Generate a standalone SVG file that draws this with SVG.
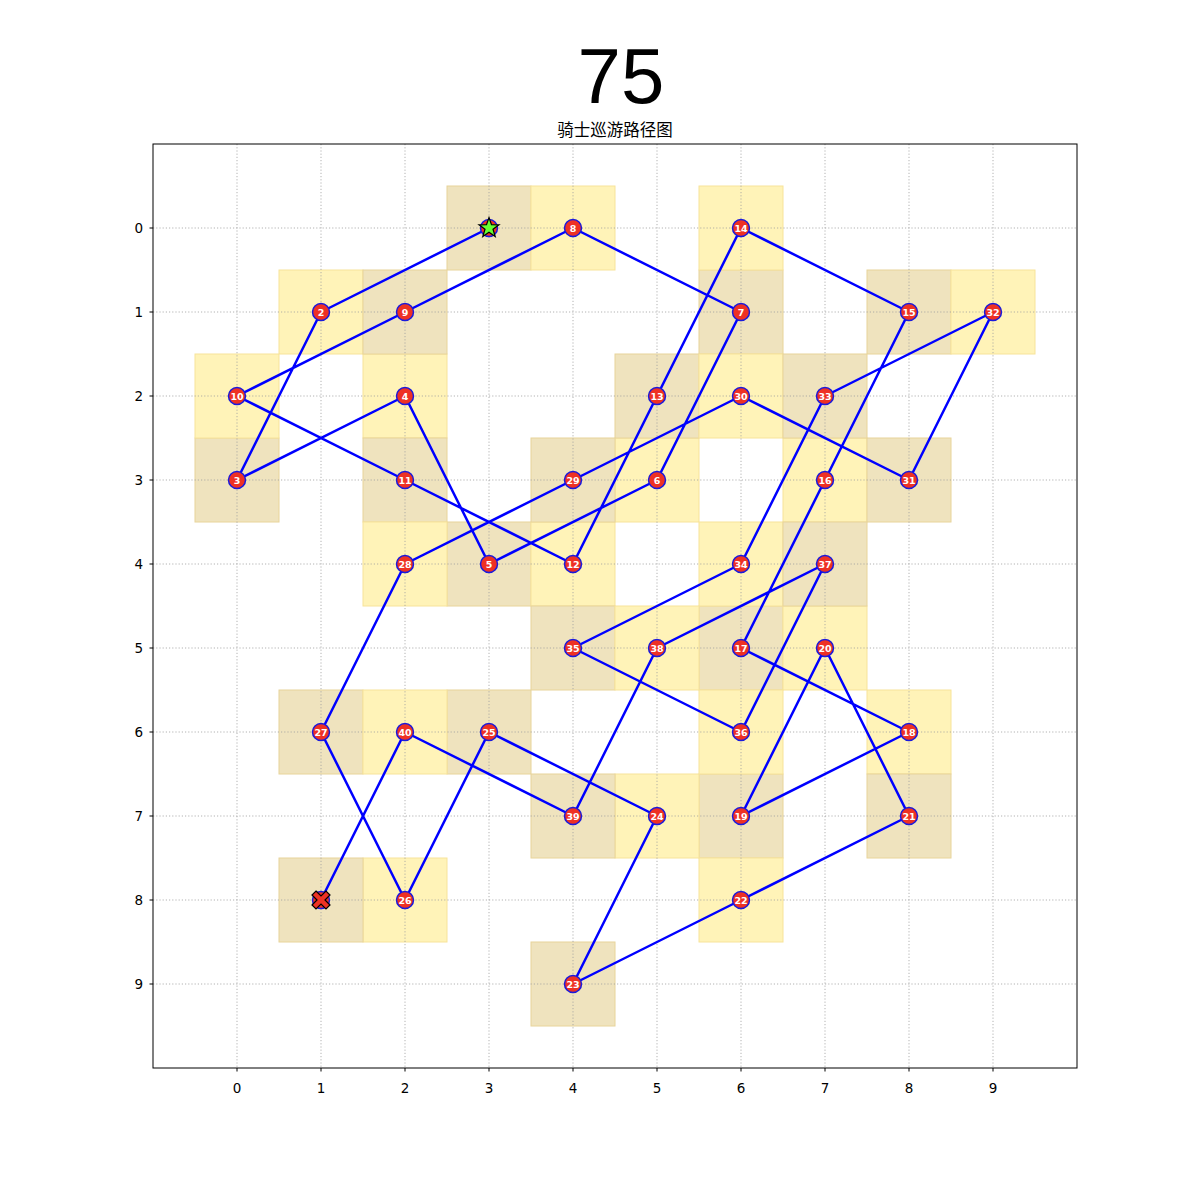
<svg xmlns="http://www.w3.org/2000/svg" width="1200" height="1200" viewBox="0 0 1200 1200">
<style>
.ty{fill:#FFF3B8;stroke:#F7E39A;stroke-width:1}
.tt{fill:#EFE3BE;stroke:#E8D49A;stroke-width:1}
.grid line{stroke:#a0a0a0;stroke-width:0.8;stroke-dasharray:1.2,2}
.edge{stroke:#0000FF;stroke-width:2.5;fill:none;stroke-linecap:round}
.nd circle{fill:#EE3124;stroke:#1a1adc;stroke-width:1.5}
.nd text{fill:#fff;font-family:"DejaVu Sans",sans-serif;font-size:9.5px;font-weight:bold;text-anchor:middle}
.tick{font-family:"DejaVu Sans",sans-serif;font-size:13.5px;fill:#000}
</style>
<rect width="1200" height="1200" fill="#fff"/>
<text x="621" y="103" text-anchor="middle" font-family="Liberation Sans, Arial, sans-serif" font-size="78" fill="#000">75</text>
<text x="615" y="136" text-anchor="middle" font-family="DejaVu Sans, 'Noto Sans CJK SC', sans-serif" font-size="16.5" fill="#000">骑士巡游路径图</text>
<g id="cells">
<rect class="tt" x="447" y="186" width="84" height="84"/>
<rect class="ty" x="279" y="270" width="84" height="84"/>
<rect class="tt" x="195" y="438" width="84" height="84"/>
<rect class="ty" x="363" y="354" width="84" height="84"/>
<rect class="tt" x="447" y="522" width="84" height="84"/>
<rect class="ty" x="615" y="438" width="84" height="84"/>
<rect class="tt" x="699" y="270" width="84" height="84"/>
<rect class="ty" x="531" y="186" width="84" height="84"/>
<rect class="tt" x="363" y="270" width="84" height="84"/>
<rect class="ty" x="195" y="354" width="84" height="84"/>
<rect class="tt" x="363" y="438" width="84" height="84"/>
<rect class="ty" x="531" y="522" width="84" height="84"/>
<rect class="tt" x="615" y="354" width="84" height="84"/>
<rect class="ty" x="699" y="186" width="84" height="84"/>
<rect class="tt" x="867" y="270" width="84" height="84"/>
<rect class="ty" x="783" y="438" width="84" height="84"/>
<rect class="tt" x="699" y="606" width="84" height="84"/>
<rect class="ty" x="867" y="690" width="84" height="84"/>
<rect class="tt" x="699" y="774" width="84" height="84"/>
<rect class="ty" x="783" y="606" width="84" height="84"/>
<rect class="tt" x="867" y="774" width="84" height="84"/>
<rect class="ty" x="699" y="858" width="84" height="84"/>
<rect class="tt" x="531" y="942" width="84" height="84"/>
<rect class="ty" x="615" y="774" width="84" height="84"/>
<rect class="tt" x="447" y="690" width="84" height="84"/>
<rect class="ty" x="363" y="858" width="84" height="84"/>
<rect class="tt" x="279" y="690" width="84" height="84"/>
<rect class="ty" x="363" y="522" width="84" height="84"/>
<rect class="tt" x="531" y="438" width="84" height="84"/>
<rect class="ty" x="699" y="354" width="84" height="84"/>
<rect class="tt" x="867" y="438" width="84" height="84"/>
<rect class="ty" x="951" y="270" width="84" height="84"/>
<rect class="tt" x="783" y="354" width="84" height="84"/>
<rect class="ty" x="699" y="522" width="84" height="84"/>
<rect class="tt" x="531" y="606" width="84" height="84"/>
<rect class="ty" x="699" y="690" width="84" height="84"/>
<rect class="tt" x="783" y="522" width="84" height="84"/>
<rect class="ty" x="615" y="606" width="84" height="84"/>
<rect class="tt" x="531" y="774" width="84" height="84"/>
<rect class="ty" x="363" y="690" width="84" height="84"/>
<rect class="tt" x="279" y="858" width="84" height="84"/>
</g>
<g class="grid">
<line x1="237" y1="144" x2="237" y2="1068"/><line x1="321" y1="144" x2="321" y2="1068"/><line x1="405" y1="144" x2="405" y2="1068"/><line x1="489" y1="144" x2="489" y2="1068"/><line x1="573" y1="144" x2="573" y2="1068"/><line x1="657" y1="144" x2="657" y2="1068"/><line x1="741" y1="144" x2="741" y2="1068"/><line x1="825" y1="144" x2="825" y2="1068"/><line x1="909" y1="144" x2="909" y2="1068"/><line x1="993" y1="144" x2="993" y2="1068"/>
<line x1="153" y1="228" x2="1077" y2="228"/><line x1="153" y1="312" x2="1077" y2="312"/><line x1="153" y1="396" x2="1077" y2="396"/><line x1="153" y1="480" x2="1077" y2="480"/><line x1="153" y1="564" x2="1077" y2="564"/><line x1="153" y1="648" x2="1077" y2="648"/><line x1="153" y1="732" x2="1077" y2="732"/><line x1="153" y1="816" x2="1077" y2="816"/><line x1="153" y1="900" x2="1077" y2="900"/><line x1="153" y1="984" x2="1077" y2="984"/>
</g>
<g id="axes" stroke="#000" stroke-width="1">
<rect x="153" y="144" width="924" height="924" fill="none"/>
<path d="M237 1068v3.5M321 1068v3.5M405 1068v3.5M489 1068v3.5M573 1068v3.5M657 1068v3.5M741 1068v3.5M825 1068v3.5M909 1068v3.5M993 1068v3.5M153 228h-3.5M153 312h-3.5M153 396h-3.5M153 480h-3.5M153 564h-3.5M153 648h-3.5M153 732h-3.5M153 816h-3.5M153 900h-3.5M153 984h-3.5"/>
</g>
<g class="tick" text-anchor="middle">
<text x="237" y="1093">0</text><text x="321" y="1093">1</text><text x="405" y="1093">2</text><text x="489" y="1093">3</text><text x="573" y="1093">4</text><text x="657" y="1093">5</text><text x="741" y="1093">6</text><text x="825" y="1093">7</text><text x="909" y="1093">8</text><text x="993" y="1093">9</text>
</g>
<g class="tick" text-anchor="end">
<text x="143" y="233">0</text><text x="143" y="317">1</text><text x="143" y="401">2</text><text x="143" y="485">3</text><text x="143" y="569">4</text><text x="143" y="653">5</text><text x="143" y="737">6</text><text x="143" y="821">7</text><text x="143" y="905">8</text><text x="143" y="989">9</text>
</g>
<g id="connectors">
<polyline class="edge" points="489,228 321,312 237,480 405,396 489,564 657,480 741,312 573,228 405,312 237,396 405,480 573,564 657,396 741,228 909,312 825,480 741,648 909,732 741,816 825,648 909,816 741,900 573,984 657,816 489,732 405,900 321,732 405,564 573,480 741,396 909,480 993,312 825,396 741,564 573,648 741,732 825,564 657,648 573,816 405,732 321,900" stroke-linejoin="round"/>
</g>
<g id="nodes">
<g id="n1" class="nd"><circle cx="489" cy="228" r="8.5"/><polygon points="489,217.5 491.5,224.6 499,224.8 493,229.3 495.2,236.5 489,232.2 482.8,236.5 485,229.3 479,224.8 486.5,224.6" fill="#66FF33" stroke="#000" stroke-width="1.2" stroke-linejoin="miter"/></g>
<g id="n2" class="nd"><circle cx="321" cy="312" r="8.5"/><text x="321" y="315.5">2</text></g>
<g id="n3" class="nd"><circle cx="237" cy="480" r="8.5"/><text x="237" y="483.5">3</text></g>
<g id="n4" class="nd"><circle cx="405" cy="396" r="8.5"/><text x="405" y="399.5">4</text></g>
<g id="n5" class="nd"><circle cx="489" cy="564" r="8.5"/><text x="489" y="567.5">5</text></g>
<g id="n6" class="nd"><circle cx="657" cy="480" r="8.5"/><text x="657" y="483.5">6</text></g>
<g id="n7" class="nd"><circle cx="741" cy="312" r="8.5"/><text x="741" y="315.5">7</text></g>
<g id="n8" class="nd"><circle cx="573" cy="228" r="8.5"/><text x="573" y="231.5">8</text></g>
<g id="n9" class="nd"><circle cx="405" cy="312" r="8.5"/><text x="405" y="315.5">9</text></g>
<g id="n10" class="nd"><circle cx="237" cy="396" r="8.5"/><text x="237" y="399.5">10</text></g>
<g id="n11" class="nd"><circle cx="405" cy="480" r="8.5"/><text x="405" y="483.5">11</text></g>
<g id="n12" class="nd"><circle cx="573" cy="564" r="8.5"/><text x="573" y="567.5">12</text></g>
<g id="n13" class="nd"><circle cx="657" cy="396" r="8.5"/><text x="657" y="399.5">13</text></g>
<g id="n14" class="nd"><circle cx="741" cy="228" r="8.5"/><text x="741" y="231.5">14</text></g>
<g id="n15" class="nd"><circle cx="909" cy="312" r="8.5"/><text x="909" y="315.5">15</text></g>
<g id="n16" class="nd"><circle cx="825" cy="480" r="8.5"/><text x="825" y="483.5">16</text></g>
<g id="n17" class="nd"><circle cx="741" cy="648" r="8.5"/><text x="741" y="651.5">17</text></g>
<g id="n18" class="nd"><circle cx="909" cy="732" r="8.5"/><text x="909" y="735.5">18</text></g>
<g id="n19" class="nd"><circle cx="741" cy="816" r="8.5"/><text x="741" y="819.5">19</text></g>
<g id="n20" class="nd"><circle cx="825" cy="648" r="8.5"/><text x="825" y="651.5">20</text></g>
<g id="n21" class="nd"><circle cx="909" cy="816" r="8.5"/><text x="909" y="819.5">21</text></g>
<g id="n22" class="nd"><circle cx="741" cy="900" r="8.5"/><text x="741" y="903.5">22</text></g>
<g id="n23" class="nd"><circle cx="573" cy="984" r="8.5"/><text x="573" y="987.5">23</text></g>
<g id="n24" class="nd"><circle cx="657" cy="816" r="8.5"/><text x="657" y="819.5">24</text></g>
<g id="n25" class="nd"><circle cx="489" cy="732" r="8.5"/><text x="489" y="735.5">25</text></g>
<g id="n26" class="nd"><circle cx="405" cy="900" r="8.5"/><text x="405" y="903.5">26</text></g>
<g id="n27" class="nd"><circle cx="321" cy="732" r="8.5"/><text x="321" y="735.5">27</text></g>
<g id="n28" class="nd"><circle cx="405" cy="564" r="8.5"/><text x="405" y="567.5">28</text></g>
<g id="n29" class="nd"><circle cx="573" cy="480" r="8.5"/><text x="573" y="483.5">29</text></g>
<g id="n30" class="nd"><circle cx="741" cy="396" r="8.5"/><text x="741" y="399.5">30</text></g>
<g id="n31" class="nd"><circle cx="909" cy="480" r="8.5"/><text x="909" y="483.5">31</text></g>
<g id="n32" class="nd"><circle cx="993" cy="312" r="8.5"/><text x="993" y="315.5">32</text></g>
<g id="n33" class="nd"><circle cx="825" cy="396" r="8.5"/><text x="825" y="399.5">33</text></g>
<g id="n34" class="nd"><circle cx="741" cy="564" r="8.5"/><text x="741" y="567.5">34</text></g>
<g id="n35" class="nd"><circle cx="573" cy="648" r="8.5"/><text x="573" y="651.5">35</text></g>
<g id="n36" class="nd"><circle cx="741" cy="732" r="8.5"/><text x="741" y="735.5">36</text></g>
<g id="n37" class="nd"><circle cx="825" cy="564" r="8.5"/><text x="825" y="567.5">37</text></g>
<g id="n38" class="nd"><circle cx="657" cy="648" r="8.5"/><text x="657" y="651.5">38</text></g>
<g id="n39" class="nd"><circle cx="573" cy="816" r="8.5"/><text x="573" y="819.5">39</text></g>
<g id="n40" class="nd"><circle cx="405" cy="732" r="8.5"/><text x="405" y="735.5">40</text></g>
<g id="n41" class="nd"><circle cx="321" cy="900" r="8.5"/><polygon points="316,891 321,896 326,891 330,895 325,900 330,905 326,909 321,904 316,909 312,905 317,900 312,895" fill="#EE3124" stroke="#000" stroke-width="1.2"/></g>
</g>
</svg>
